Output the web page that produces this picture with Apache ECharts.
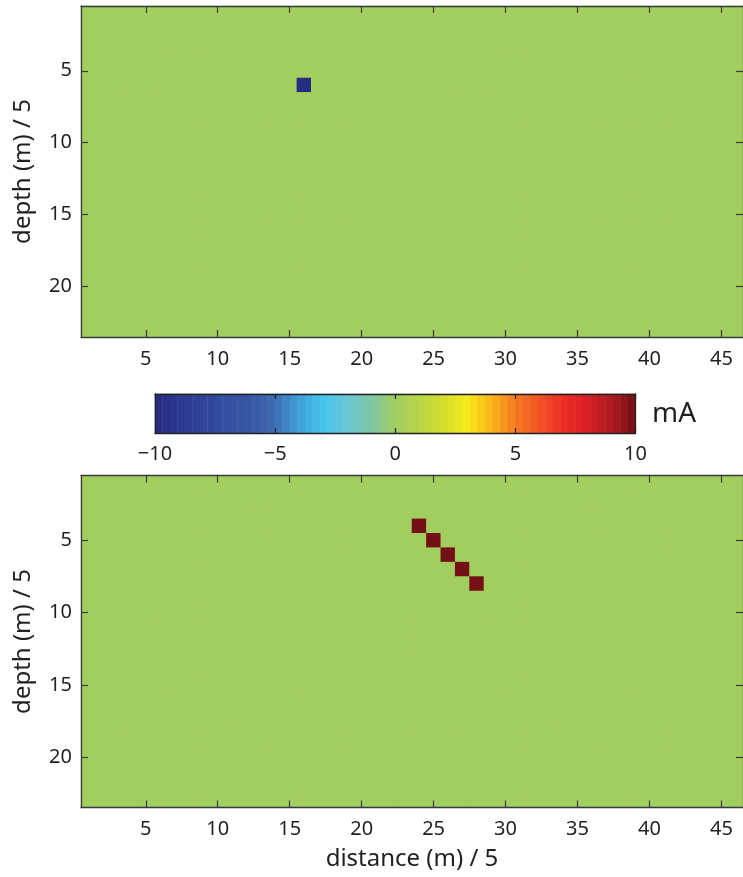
<!DOCTYPE html>
<html>
<head>
<meta charset="utf-8">
<script src="https://cdn.jsdelivr.net/npm/echarts@6/dist/echarts.min.js"></script>
<style>
  html, body { margin: 0; padding: 0; background: #ffffff; }
  #chart { width: 743px; height: 877px; }
</style>
</head>
<body>
<div id="chart"></div>
<script>
// Model grid size (cells)
const NUM_DISTANCE = 46;
const NUM_DEPTH = 23;

// Tick labels
const distanceTicks = [5, 10, 15, 20, 25, 30, 35, 40, 45];
const depthTicks = [5, 10, 15, 20];
const colorbarTicks = [-10, -5, 0, 5, 10];

// Non-zero source cells: [distance, depth, current (mA)]
const upperCells = [[16, 6, -10]];
const lowerCells = [[24, 4, 10], [25, 5, 10], [26, 6, 10], [27, 7, 10], [28, 8, 10]];

// Colour scale from -10 mA to 10 mA, one stop per unit
const colourStops = [
  '#282b82', '#2c3890', '#31439a', '#3550a1', '#3956a5', '#3e6cb2',
  '#419fd8', '#45c5ee', '#69c7d4', '#7fc6a8', '#a2ce60', '#b8d547',
  '#d3de2e', '#f6eb1a', '#fab51a', '#f47a20', '#f15424', '#ee2c25',
  '#d81f26', '#ad1c22', '#721015'
];
const ZERO_COLOUR = colourStops[10];
const COLORBAR_STEPS = 64;
const CUR_MIN = -10, CUR_MAX = 10;

const distanceCats = Array.from({ length: NUM_DISTANCE }, (_, i) => String(i + 1));
const depthCats = Array.from({ length: NUM_DEPTH }, (_, i) => String(i + 1));

// Full field: zero current everywhere except the listed cells
function buildField(cells) {
  const lookup = {};
  cells.forEach(c => { lookup[c[0] + ',' + c[1]] = c[2]; });
  const out = [];
  for (let d = 1; d <= NUM_DISTANCE; d++) {
    for (let z = 1; z <= NUM_DEPTH; z++) {
      const v = lookup[d + ',' + z];
      out.push([d - 1, z - 1, v === undefined ? 0 : v]);
    }
  }
  return out;
}

// Colour bar levels (centre of each step)
const colorbarCats = [];
const colorbarData = [];
for (let i = 0; i < COLORBAR_STEPS; i++) {
  const v = CUR_MIN + (i + 0.5) * (CUR_MAX - CUR_MIN) / COLORBAR_STEPS;
  colorbarCats.push(String(i));
  colorbarData.push([i, 0, v]);
}

const FONT = 'Noto Sans';
const INK = '#231f20';
const FRAME = '#3a3a3a';
const TICK_FONT = 20;
const NAME_FONT = 24;

const tickEvery = (list) => (idx, val) => list.indexOf(Number(val)) !== -1;

function fieldAxes(gridIndex, showXName) {
  const xMain = {
    type: 'category', gridIndex, data: distanceCats, position: 'bottom', z: 10,
    axisLine: { show: true, onZero: false, lineStyle: { color: FRAME, width: 1.3 } },
    axisTick: { show: true, inside: true, length: 7, alignWithLabel: true,
      interval: tickEvery(distanceTicks), lineStyle: { color: FRAME, width: 1.2 } },
    axisLabel: { show: true, interval: tickEvery(distanceTicks), margin: 12,
      fontFamily: FONT, fontSize: TICK_FONT, color: INK },
    splitLine: { show: false }
  };
  if (showXName) {
    xMain.name = 'distance (m) / 5';
    xMain.nameLocation = 'middle';
    xMain.nameGap = 40;
    xMain.nameTextStyle = { fontFamily: FONT, fontSize: NAME_FONT, color: INK };
  }
  const xMirror = {
    type: 'category', gridIndex, data: distanceCats, position: 'top', z: 10,
    axisLine: { show: true, onZero: false, lineStyle: { color: FRAME, width: 1.3 } },
    axisTick: { show: true, inside: true, length: 7, alignWithLabel: true,
      interval: tickEvery(distanceTicks), lineStyle: { color: FRAME, width: 1.2 } },
    axisLabel: { show: false }, splitLine: { show: false }
  };
  const yMain = {
    type: 'category', gridIndex, data: depthCats, inverse: true, position: 'left', z: 10,
    name: 'depth (m) / 5', nameLocation: 'middle', nameGap: 46, nameRotate: 90,
    nameTextStyle: { fontFamily: FONT, fontSize: NAME_FONT, color: INK },
    axisLine: { show: true, onZero: false, lineStyle: { color: FRAME, width: 1.3 } },
    axisTick: { show: true, inside: true, length: 7, alignWithLabel: true,
      interval: tickEvery(depthTicks), lineStyle: { color: FRAME, width: 1.2 } },
    axisLabel: { show: true, interval: tickEvery(depthTicks), margin: 9,
      fontFamily: FONT, fontSize: TICK_FONT, color: INK },
    splitLine: { show: false }
  };
  const yMirror = {
    type: 'category', gridIndex, data: depthCats, inverse: true, position: 'right', z: 10,
    axisLine: { show: true, onZero: false, lineStyle: { color: FRAME, width: 1.3 } },
    axisTick: { show: true, inside: true, length: 7, alignWithLabel: true,
      interval: tickEvery(depthTicks), lineStyle: { color: FRAME, width: 1.2 } },
    axisLabel: { show: false }, splitLine: { show: false }
  };
  return { x: [xMain, xMirror], y: [yMain, yMirror] };
}

const upperAxes = fieldAxes(0, false);
const lowerAxes = fieldAxes(1, true);

const minusFmt = v => (v < 0 ? '\u2212' + Math.abs(v) : String(v));

const colorbarX = [
  { type: 'category', gridIndex: 2, data: colorbarCats, show: false },
  { type: 'value', gridIndex: 2, min: CUR_MIN, max: CUR_MAX, interval: 5, position: 'bottom', z: 10,
    axisLine: { show: true, onZero: false, lineStyle: { color: '#222', width: 1.3 } },
    axisTick: { show: true, inside: true, length: 5, lineStyle: { color: '#222', width: 1.2 } },
    axisLabel: { show: true, margin: 11, formatter: minusFmt, fontFamily: FONT, fontSize: TICK_FONT, color: INK },
    splitLine: { show: false } },
  { type: 'value', gridIndex: 2, min: CUR_MIN, max: CUR_MAX, interval: 5, position: 'top', z: 10,
    axisLine: { show: true, onZero: false, lineStyle: { color: '#222', width: 1.3 } },
    axisTick: { show: true, inside: true, length: 5, lineStyle: { color: '#222', width: 1.2 } },
    axisLabel: { show: false }, splitLine: { show: false } }
];
const colorbarY = [
  { type: 'category', gridIndex: 2, data: [''], position: 'left', z: 10,
    axisLine: { show: true, onZero: false, lineStyle: { color: '#222', width: 1.3 } },
    axisTick: { show: false }, axisLabel: { show: false }, splitLine: { show: false } },
  { type: 'category', gridIndex: 2, data: [''], position: 'right', z: 10,
    axisLine: { show: true, onZero: false, lineStyle: { color: '#222', width: 1.3 } },
    axisTick: { show: false }, axisLabel: { show: false }, splitLine: { show: false } }
];

const heat = (xAxisIndex, yAxisIndex, data) => ({
  type: 'heatmap', xAxisIndex, yAxisIndex, data,
  progressive: 0, animation: false,
  itemStyle: { borderWidth: 0 },
  emphasis: { disabled: true }
});

const option = {
  backgroundColor: '#ffffff',
  animation: false,
  textStyle: { fontFamily: FONT },
  grid: [
    // plot background carries the zero-current colour so cell seams stay invisible
    { left: 81, top: 6, width: 664, height: 331, show: true, backgroundColor: ZERO_COLOUR, borderWidth: 0 },
    { left: 81, top: 475.5, width: 664, height: 332, show: true, backgroundColor: ZERO_COLOUR, borderWidth: 0 },
    { left: 155, top: 394, width: 480.5, height: 39 }
  ],
  xAxis: [...upperAxes.x, ...lowerAxes.x, ...colorbarX],
  yAxis: [...upperAxes.y, ...lowerAxes.y, ...colorbarY],
  visualMap: {
    type: 'continuous', show: false, min: CUR_MIN, max: CUR_MAX,
    seriesIndex: [0, 1, 2], dimension: 2,
    inRange: { color: colourStops }
  },
  graphic: [
    { type: 'text', left: 652, top: 400,
      style: { text: 'mA', fontFamily: FONT, fontSize: 28, fill: INK } }
  ],
  series: [
    heat(0, 0, buildField(upperCells)),
    heat(2, 2, buildField(lowerCells)),
    heat(4, 4, colorbarData)
  ]
};

const chart = echarts.init(document.getElementById('chart'), null, { renderer: 'canvas' });
chart.setOption(option);
</script>
</body>
</html>
